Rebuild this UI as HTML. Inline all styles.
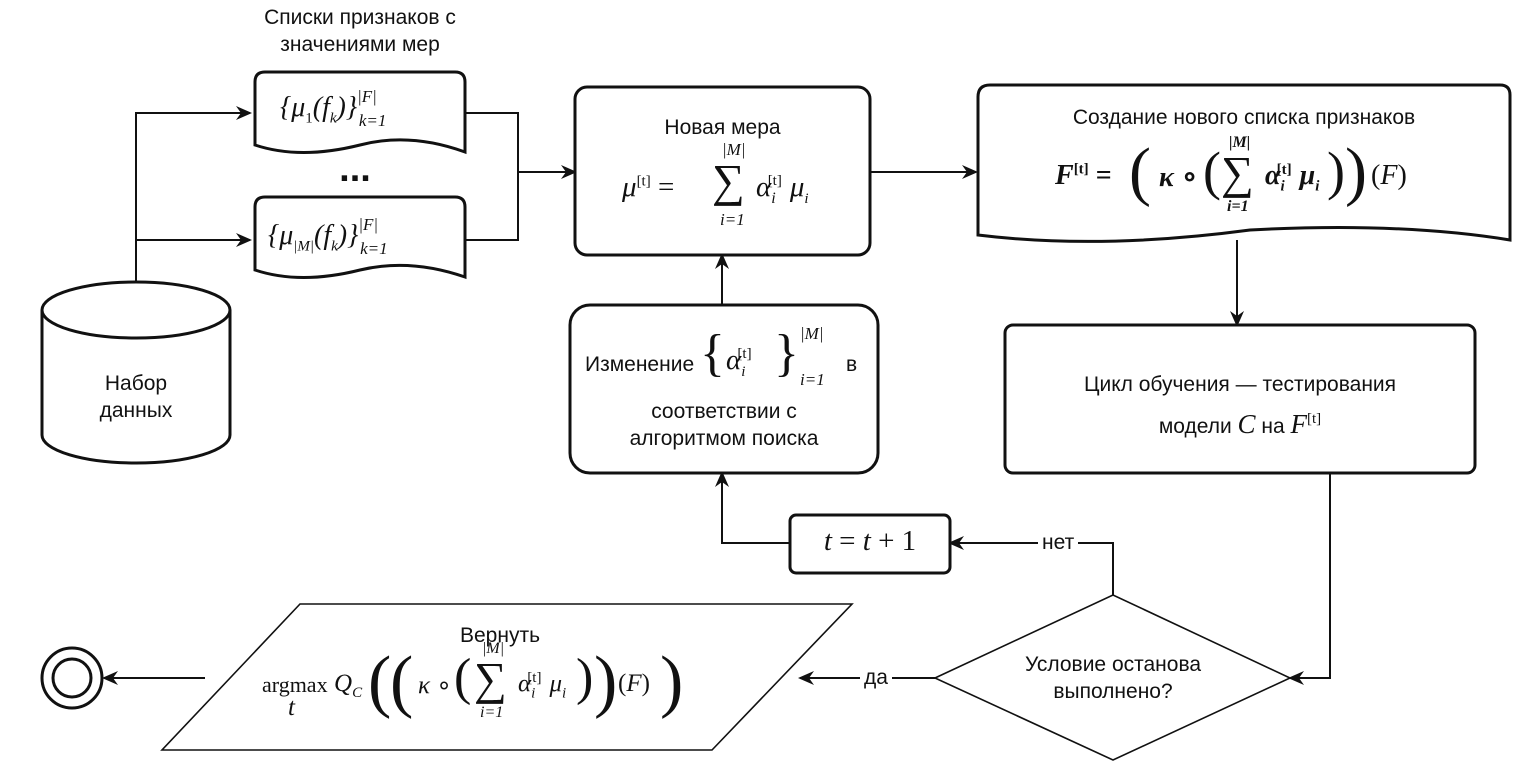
<!DOCTYPE html>
<html><head><meta charset="utf-8"><style>
body{margin:0;width:1540px;height:773px;background:#fff;overflow:hidden;position:relative;font-family:"Liberation Sans",sans-serif;color:#111}
svg{position:absolute;left:0;top:0}
.t{position:absolute;font-size:21px;text-align:center;white-space:nowrap;line-height:27px}
.m{font-family:"Liberation Serif",serif;font-style:italic;position:absolute;white-space:nowrap}
.n{font-style:normal}
sup,sub{font-size:15px}
.big{font-size:46px;font-style:normal;line-height:1}
</style></head><body>
<svg width="1540" height="773" viewBox="0 0 1540 773">
<defs><marker id="a" markerWidth="16" markerHeight="14" refX="14" refY="7" orient="auto" markerUnits="userSpaceOnUse"><path d="M0,0 L16,7 L0,14 L5,7z" fill="#111"/></marker></defs>
<g fill="none" stroke="#111" stroke-width="2">
<path d="M136,283 V113 H250" marker-end="url(#a)"/>
<path d="M136,240 H250" marker-end="url(#a)"/>
<path d="M465,113 H518 V240 H465"/>
<path d="M518,172 H575" marker-end="url(#a)"/>
<path d="M870,172 H976" marker-end="url(#a)"/>
<path d="M1237,240 V325" marker-end="url(#a)"/>
<path d="M1330,473 V678 H1290" marker-end="url(#a)"/>
<path d="M1113,595 V543 H950" marker-end="url(#a)"/>
<path d="M790,543 H722 V473" marker-end="url(#a)"/>
<path d="M722,305 V255" marker-end="url(#a)"/>
<path d="M935,678 H800" marker-end="url(#a)"/>
<path d="M205,678 H104" marker-end="url(#a)"/>
<path d="M935,678 L1113,595 L1290,678 L1113,760 Z" fill="#fff" stroke-width="1.6"/>
<path d="M300,604 H852 L712,750 H162 Z" fill="#fff" stroke-width="1.6"/>
</g>
<g fill="#fff" stroke="#111" stroke-width="3">
<path d="M265,72 H455 Q465,72 465,82 V152 Q410,132 360,145 Q300,160 255,145 V82 Q255,72 265,72Z"/>
<path d="M265,197 H455 Q465,197 465,207 V277 Q410,258 360,270 Q300,285 255,270 V207 Q255,197 265,197Z"/>
<path d="M42,310 V435 A94,28 0 0 0 230,435 V310 A94,28 0 0 0 42,310 A94,28 0 0 0 230,310"/>
<rect x="575" y="87" width="295" height="168" rx="12"/>
<path d="M990,85 H1500 Q1510,85 1510,95 V240 Q1400,222 1250,230 Q1100,250 978,235 V97 Q978,85 990,85Z"/>
<rect x="1005" y="325" width="470" height="148" rx="8"/>
<rect x="570" y="305" width="308" height="168" rx="20"/>
<rect x="790" y="515" width="160" height="58" rx="6"/>
<circle cx="72" cy="678" r="30"/>
<circle cx="72" cy="678" r="19"/>
</g>
</svg>
<div class="t" style="left:230px;top:4px;width:260px">Списки признаков с<br>значениями мер</div>
<div class="m" style="left:280px;top:92px;font-size:28px">{<i>μ</i><sub class="n">1</sub>(<i>f<sub>k</sub></i>)}<span style="position:relative;top:-14px;font-size:17px">|F|</span><span style="position:relative;left:-18px;top:10px;font-size:17px">k=1</span></div>
<div class="t" style="left:320px;top:156px;width:70px;font-size:38px;font-weight:bold">...</div>
<div class="m" style="left:268px;top:220px;font-size:28px">{<i>μ</i><sub>|M|</sub>(<i>f<sub>k</sub></i>)}<span style="position:relative;top:-14px;font-size:17px">|F|</span><span style="position:relative;left:-18px;top:10px;font-size:17px">k=1</span></div>
<div class="t" style="left:42px;top:370px;width:188px">Набор<br>данных</div>
<div class="t" style="left:575px;top:114px;width:295px">Новая мера</div>
<div class="m" style="left:622px;top:140px;width:220px;height:100px;font-size:29px">
<span style="position:absolute;left:0;top:31px">μ<sup class="n">[t]</sup> <span class="n">=</span></span>
<span style="position:absolute;left:100px;top:0;font-size:17px">|M|</span>
<span class="big" style="position:absolute;left:90px;top:18px">∑</span>
<span style="position:absolute;left:98px;top:70px;font-size:17px">i=1</span>
<span style="position:absolute;left:134px;top:31px">α<sub style="font-size:16px">i</sub><sup class="n" style="position:relative;left:-8px">[t]</sup>μ<sub>i</sub></span></div>
<div class="t" style="left:978px;top:104px;width:532px">Создание нового списка признаков</div>
<div class="m" style="left:1055px;top:140px;width:400px;height:90px;font-size:28px;font-weight:bold">
<span style="position:absolute;left:0;top:20px">F<sup class="n">[t]</sup> <span class="n">=</span></span>
<span style="position:absolute;left:74px;top:-6px;font-size:66px;font-weight:normal;font-style:normal">(</span>
<span style="position:absolute;left:104px;top:20px">κ <span class="n">∘</span></span>
<span style="position:absolute;left:148px;top:0px;font-size:54px;font-weight:normal;font-style:normal">(</span>
<span style="position:absolute;left:174px;top:-6px;font-size:16px">|M|</span>
<span class="big" style="position:absolute;left:166px;top:10px;font-weight:normal">∑</span>
<span style="position:absolute;left:172px;top:58px;font-size:16px">i=1</span>
<span style="position:absolute;left:210px;top:20px">α<sub>i</sub><sup class="n" style="position:relative;left:-8px">[t]</sup>μ<sub>i</sub></span>
<span style="position:absolute;left:272px;top:0px;font-size:54px;font-weight:normal;font-style:normal">)</span>
<span style="position:absolute;left:290px;top:-6px;font-size:66px;font-weight:normal;font-style:normal">)</span>
<span style="position:absolute;left:316px;top:20px;font-weight:normal"><span class="n">(</span>F<span class="n">)</span></span></div>
<div class="t" style="left:1005px;top:371px;width:470px">Цикл обучения — тестирования</div>
<div class="t" style="left:1005px;top:406px;width:470px">модели <span class="m" style="position:static;font-size:27px">C</span> на <span class="m" style="position:static;font-size:27px">F<sup class="n">[t]</sup></span></div>
<div class="t" style="left:585px;top:351px">Изменение</div>
<div class="m" style="left:700px;top:318px;font-size:29px;height:80px;width:160px">
<span style="position:absolute;left:0;top:6px;font-size:52px;font-style:normal">{</span>
<span style="position:absolute;left:26px;top:26px">α<sub>i</sub><sup class="n" style="position:relative;left:-8px">[t]</sup></span>
<span style="position:absolute;left:74px;top:6px;font-size:52px;font-style:normal">}</span>
<span style="position:absolute;left:100px;top:6px;font-size:17px">|M|</span>
<span style="position:absolute;left:100px;top:52px;font-size:17px">i=1</span></div>
<div class="t" style="left:846px;top:351px">в</div>
<div class="t" style="left:570px;top:398px;width:308px">соответствии с<br>алгоритмом поиска</div>
<div class="m" style="left:790px;top:525px;width:160px;text-align:center;font-size:29px">t <span class="n">=</span> t <span class="n">+ 1</span></div>
<div class="t" style="left:1038px;top:529px;background:#fff;padding:0 4px">нет</div>
<div class="t" style="left:860px;top:664px;background:#fff;padding:0 4px">да</div>
<div class="t" style="left:935px;top:651px;width:356px">Условие останова<br>выполнено?</div>
<div class="t" style="left:300px;top:622px;width:400px">Вернуть</div>
<div class="m" style="left:262px;top:650px;width:460px;height:100px;font-size:25px">
<span class="n" style="position:absolute;left:0;top:22px;font-size:22px">argmax</span><span style="position:absolute;left:26px;top:44px">t</span>
<span style="position:absolute;left:72px;top:20px">Q<sub>C</sub></span>
<span style="position:absolute;left:106px;top:-8px;font-size:70px;font-style:normal">(</span>
<span style="position:absolute;left:128px;top:-8px;font-size:70px;font-style:normal">(</span>
<span style="position:absolute;left:156px;top:20px">κ <span class="n">∘</span></span>
<span style="position:absolute;left:192px;top:-2px;font-size:52px;font-style:normal">(</span>
<span style="position:absolute;left:220px;top:-10px;font-size:16px">|M|</span>
<span class="big" style="position:absolute;left:212px;top:6px">∑</span>
<span style="position:absolute;left:218px;top:54px;font-size:16px">i=1</span>
<span style="position:absolute;left:256px;top:20px">α<sub>i</sub><sup class="n" style="position:relative;left:-8px">[t]</sup>μ<sub>i</sub></span>
<span style="position:absolute;left:314px;top:-2px;font-size:52px;font-style:normal">)</span>
<span style="position:absolute;left:332px;top:-8px;font-size:70px;font-style:normal">)</span>
<span style="position:absolute;left:356px;top:20px"><span class="n">(</span>F<span class="n">)</span></span>
<span style="position:absolute;left:398px;top:-8px;font-size:70px;font-style:normal">)</span></div>
</body></html>
